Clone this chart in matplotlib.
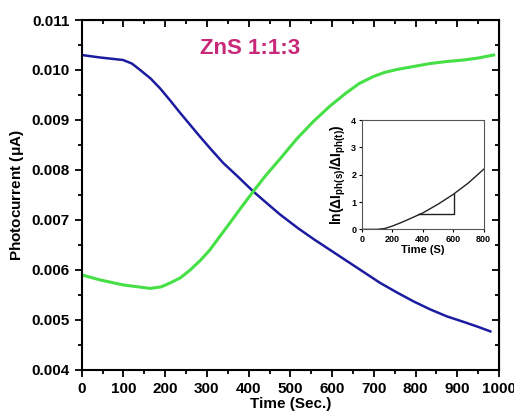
import numpy as np
import matplotlib
matplotlib.use("Agg")
import matplotlib.pyplot as plt
from matplotlib.ticker import MultipleLocator

plt.rcParams['font.family'] = 'Liberation Sans'
plt.rcParams['font.weight'] = 'bold'
plt.rcParams['mathtext.fontset'] = 'custom'
plt.rcParams['mathtext.rm'] = 'Liberation Sans:bold'
plt.rcParams['mathtext.bf'] = 'Liberation Sans:bold'
plt.rcParams['mathtext.it'] = 'Liberation Sans:bold'

# main curves
t_blue = [0, 44, 99, 120, 140, 165, 188, 212, 236, 260, 283, 310, 339, 375, 411, 440, 475,
          519, 555, 595, 635, 675, 715, 755, 795, 835, 875, 915, 950, 979]
i_blue = [0.01030, 0.01025, 0.01020, 0.01013, 0.01000, 0.00983, 0.00963, 0.00939, 0.00914,
          0.00890, 0.00867, 0.00841, 0.00814, 0.00786, 0.00757, 0.00736, 0.00711, 0.00683,
          0.00662, 0.00640, 0.00618, 0.00596, 0.00574, 0.00555, 0.00537, 0.00521, 0.00507,
          0.00496, 0.00486, 0.00477]

t_green = [0, 44, 99, 164, 190, 212, 236, 260, 283, 307, 330, 355, 383, 411, 440, 475, 515,
           555, 595, 635, 665, 699, 725, 755, 795, 835, 875, 915, 950, 987]
i_green = [0.00590, 0.00580, 0.00570, 0.00563, 0.00566, 0.00574, 0.00584, 0.00600, 0.00618,
           0.00640, 0.00666, 0.00694, 0.00726, 0.00757, 0.00788, 0.00822, 0.00862, 0.00897,
           0.00928, 0.00955, 0.00973, 0.00987, 0.00995, 0.01001, 0.01007, 0.01013, 0.01017,
           0.01020, 0.01024, 0.01030]

# inset: ln(dI_ph(s)/dI_ph(t)) vs time
t_ins = [0, 100, 150, 200, 250, 300, 400, 500, 600, 700, 800]
ln_ins = [0, 0, 0.03, 0.12, 0.23, 0.35, 0.60, 0.92, 1.28, 1.70, 2.20]
tri_x = [370, 605, 605]
tri_y = [0.55, 0.55, 1.30]

fig = plt.figure(figsize=(5.14, 4.17), dpi=100)
ax = fig.add_axes([0.159, 0.113, 0.812, 0.839])

ax.plot(t_blue, i_blue, color='#1c1ca0', lw=1.8)
ax.plot(t_green, i_green, color='#46e046', lw=2.2)

ax.set_xlim(0, 1000)
ax.set_ylim(0.004, 0.011)
ax.xaxis.set_major_locator(MultipleLocator(100))
ax.xaxis.set_minor_locator(MultipleLocator(50))
ax.yaxis.set_major_locator(MultipleLocator(0.001))
ax.yaxis.set_minor_locator(MultipleLocator(0.0005))
ax.yaxis.set_major_formatter(matplotlib.ticker.FormatStrFormatter('%.3f'))
ax.tick_params(which='both', direction='out', labelsize=11, width=1.3)
ax.tick_params(which='major', length=5)
ax.tick_params(which='minor', length=3)
for s in ax.spines.values():
    s.set_linewidth(1.5)

# mirrored ticks pointing inward on top and right
top = ax.secondary_xaxis('top')
top.xaxis.set_major_locator(MultipleLocator(100))
top.xaxis.set_minor_locator(MultipleLocator(50))
top.tick_params(which='both', direction='in', labeltop=False, width=1.3)
top.tick_params(which='major', length=5)
top.tick_params(which='minor', length=3)
right = ax.secondary_yaxis('right')
right.yaxis.set_major_locator(MultipleLocator(0.001))
right.yaxis.set_minor_locator(MultipleLocator(0.0005))
right.tick_params(which='both', direction='in', labelright=False, width=1.3)
right.tick_params(which='major', length=5)
right.tick_params(which='minor', length=3)

ax.set_xlabel('Time (Sec.)', fontsize=11, fontweight='bold', labelpad=1)
ax.set_ylabel('Photocurrent ($\\mu$A)', fontsize=11, fontweight='bold')
ax.text(403, 0.01044, 'ZnS 1:1:3', color='#c8287a', fontsize=16, fontweight='bold',
        ha='center', va='center')

# inset
ins = fig.add_axes([0.704, 0.45, 0.237, 0.262])
ins.plot(t_ins, ln_ins, color='#222222', lw=1.0)
ins.plot(tri_x, tri_y, color='#222222', lw=1.0)
ins.set_xlim(0, 800)
ins.set_ylim(0, 4)
ins.xaxis.set_major_locator(MultipleLocator(200))
ins.yaxis.set_major_locator(MultipleLocator(1))
ins.tick_params(direction='out', labelsize=6.5, length=2.5, width=0.8, pad=1.5)
for s in ins.spines.values():
    s.set_linewidth(0.8)
    s.set_color('#555555')
ins.set_xlabel('Time (S)', fontsize=8, fontweight='bold', labelpad=1)
ins.set_ylabel(r'$\mathrm{ln(\Delta I_{ph(s)}/\Delta I_{ph(t)})}$', fontsize=10, labelpad=2)

fig.savefig('out.png', dpi=100)
